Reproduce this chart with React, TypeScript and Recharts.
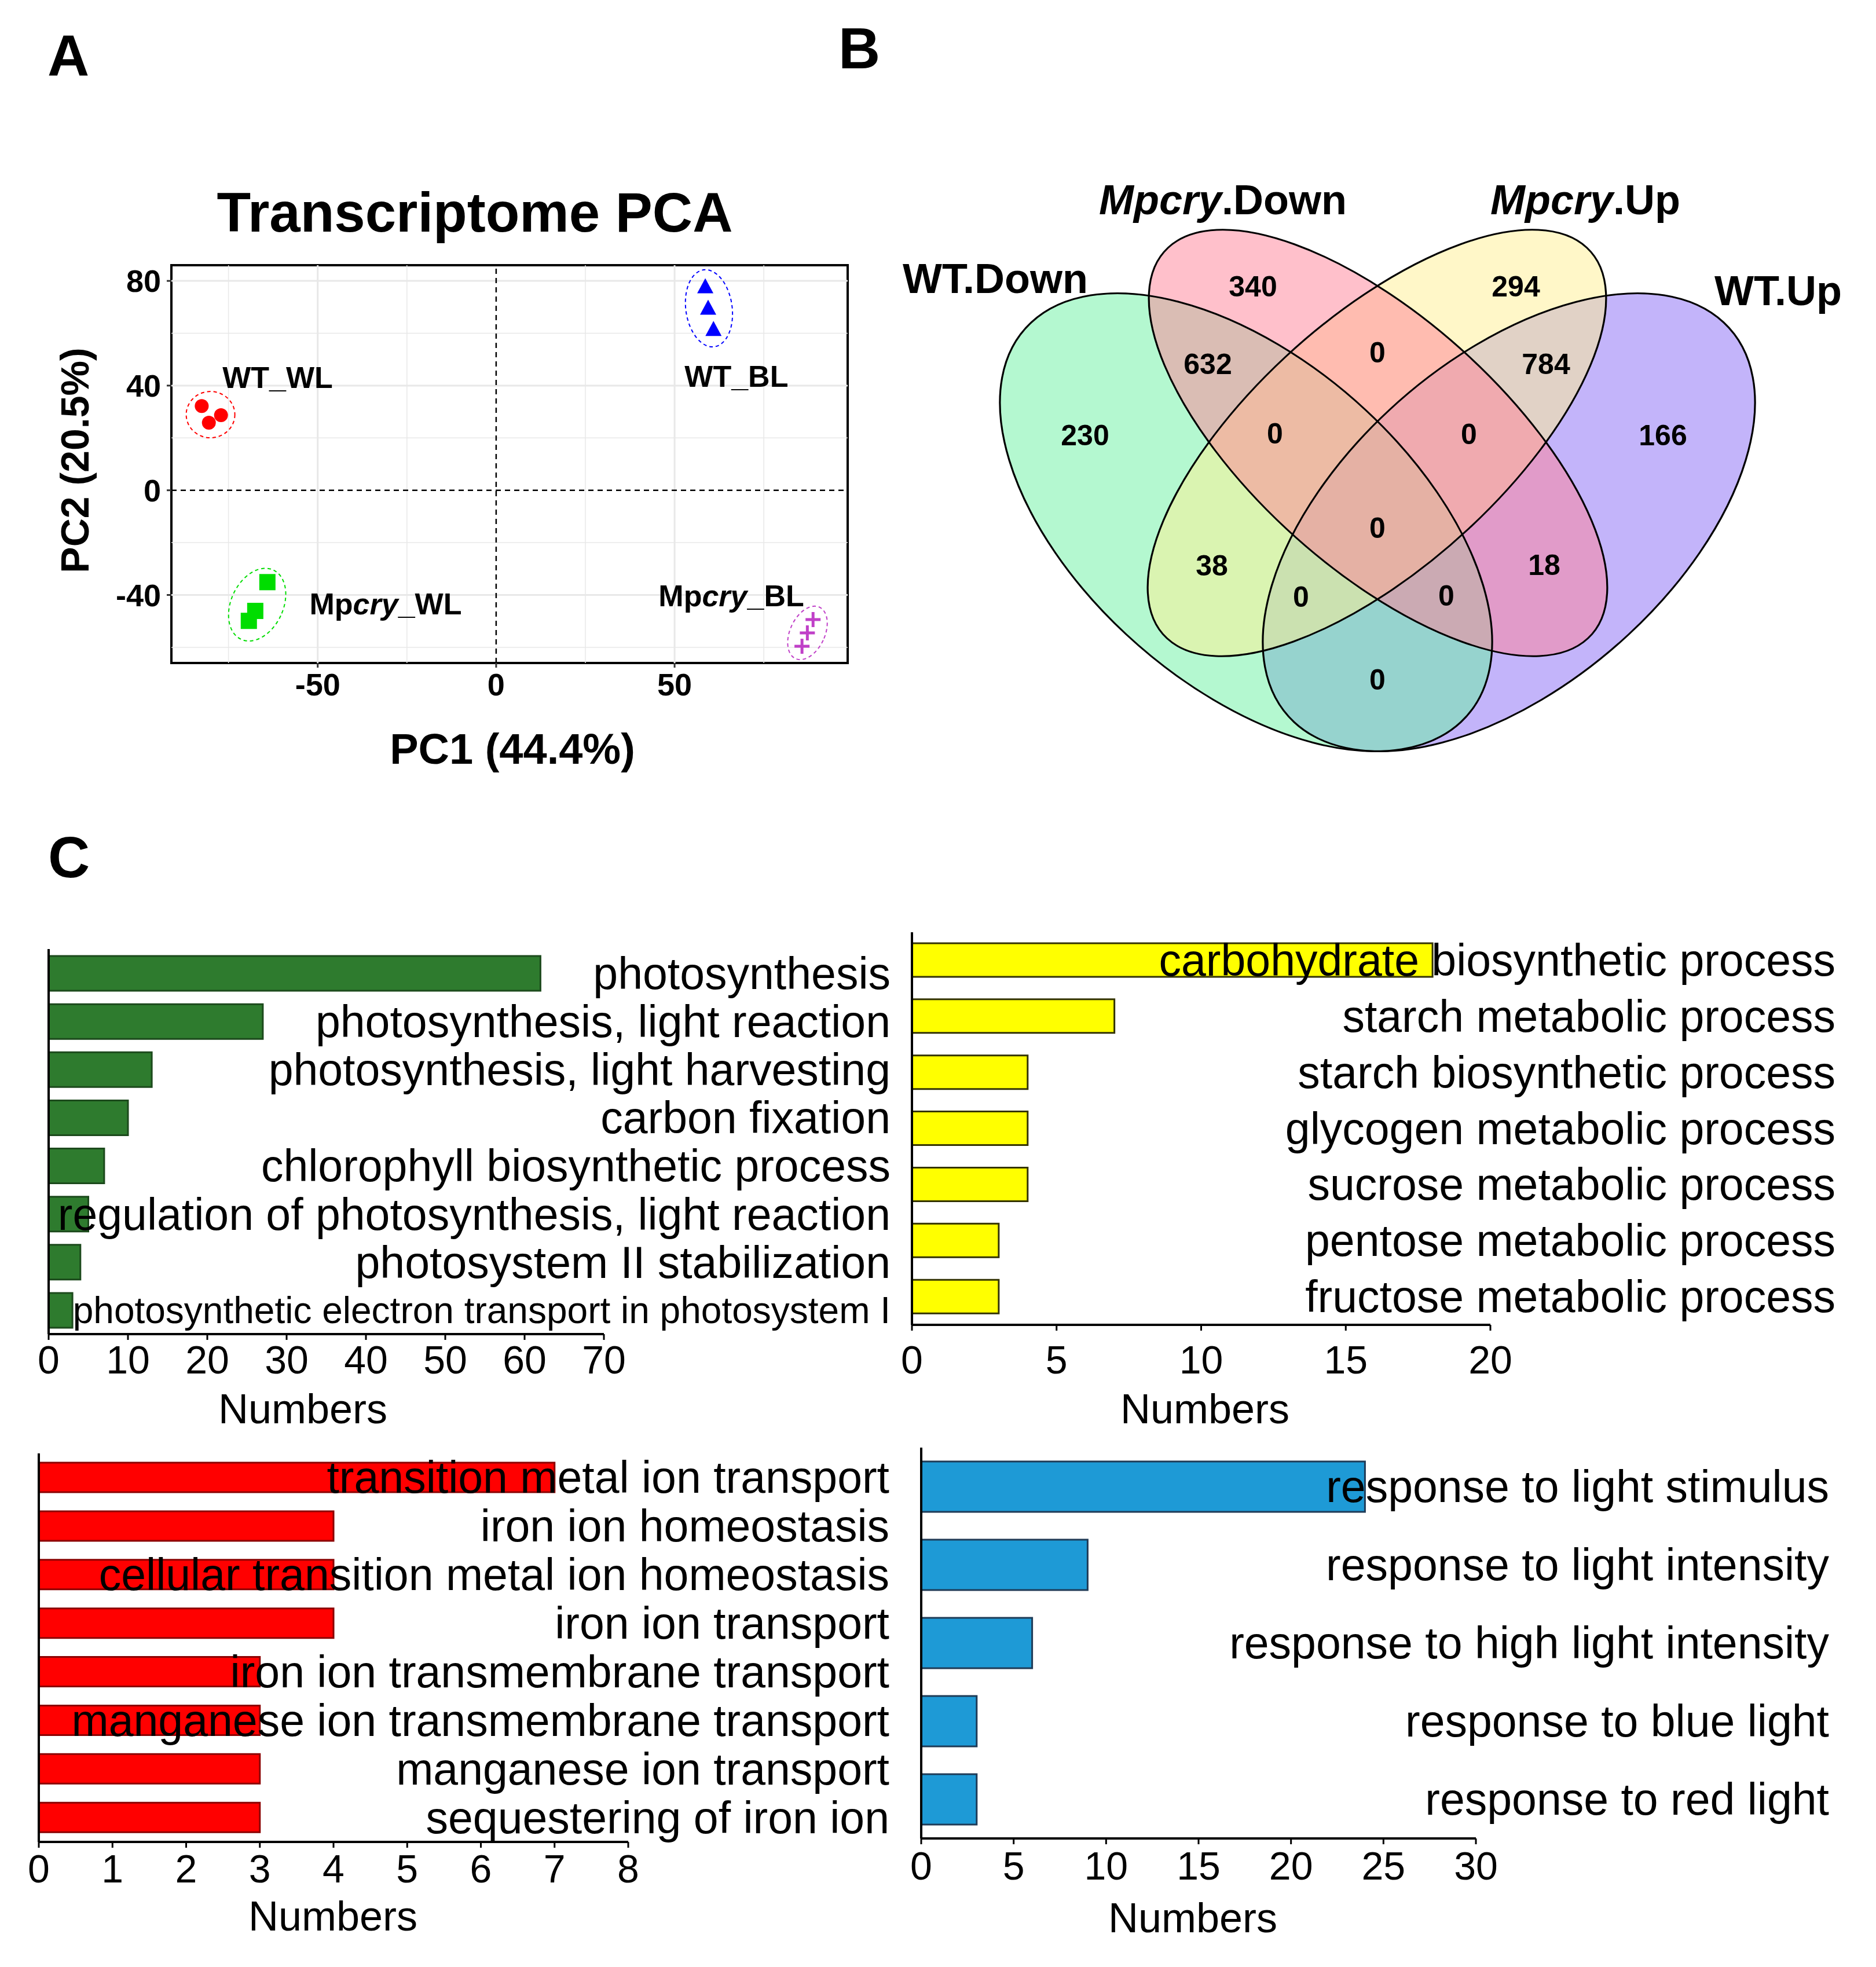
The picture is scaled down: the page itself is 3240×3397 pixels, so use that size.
import React from "react";
import {
  ScatterChart,
  Scatter,
  BarChart,
  Bar,
  XAxis,
  YAxis,
  ReferenceLine,
  ReferenceArea,
  LabelList,
} from "recharts";

const FONT = '"Liberation Sans", Arial, Helvetica, sans-serif';

// ---------- A: transcriptome PCA ----------
const PCA_GROUPS = ["WT_WL", "WT_BL", "Mpcry_WL", "Mpcry_BL"];
const PC1_WT_WL = [-82.5, -77.1, -80.5];
const PC2_WT_WL = [32.2, 28.7, 25.8];
const PC1_WT_BL = [58.6, 59.4, 60.9];
const PC2_WT_BL = [77.7, 69.5, 61.4];
const PC1_MPCRY_WL = [-64.1, -67.5, -69.3];
const PC2_MPCRY_WL = [-35.1, -46.1, -49.9];
const PC1_MPCRY_BL = [88.8, 87.2, 85.7];
const PC2_MPCRY_BL = [-49.4, -54.5, -59.6];
const PC1_TICKS = [-50, 0, 50];
const PC2_TICKS = [-40, 0, 40, 80];

// ---------- B: Venn ----------
const VENN_SETS = ["WT.Down", "Mpcry.Down", "Mpcry.Up", "WT.Up"];
const VENN_COUNTS = [230, 340, 294, 166, 632, 0, 0, 784, 0, 0, 38, 0, 0, 18, 0];

// ---------- C: GO terms ----------
const PHOTO_TERMS = [
  "photosynthesis",
  "photosynthesis, light reaction",
  "photosynthesis, light harvesting",
  "carbon fixation",
  "chlorophyll biosynthetic process",
  "regulation of photosynthesis, light reaction",
  "photosystem II stabilization",
  "photosynthetic electron transport in photosystem I",
];
const PHOTO_COUNTS = [62, 27, 13, 10, 7, 5, 4, 3];
const PHOTO_TICKS = [0, 10, 20, 30, 40, 50, 60, 70];

const CARB_TERMS = [
  "carbohydrate biosynthetic process",
  "starch metabolic process",
  "starch biosynthetic process",
  "glycogen metabolic process",
  "sucrose metabolic process",
  "pentose metabolic process",
  "fructose metabolic process",
];
const CARB_COUNTS = [18, 7, 4, 4, 4, 3, 3];
const CARB_TICKS = [0, 5, 10, 15, 20];

const ION_TERMS = [
  "transition metal ion transport",
  "iron ion homeostasis",
  "cellular transition metal ion homeostasis",
  "iron ion transport",
  "iron ion transmembrane transport",
  "manganese ion transmembrane transport",
  "manganese ion transport",
  "sequestering of iron ion",
];
const ION_COUNTS = [7, 4, 4, 4, 3, 3, 3, 3];
const ION_TICKS = [0, 1, 2, 3, 4, 5, 6, 7, 8];

const LIGHT_TERMS = [
  "response to light stimulus",
  "response to light intensity",
  "response to high light intensity",
  "response to blue light",
  "response to red light",
];
const LIGHT_COUNTS = [24, 9, 6, 3, 3];
const LIGHT_TICKS = [0, 5, 10, 15, 20, 25, 30];

// ---------- layout / styling ----------
const PCA_X_DOMAIN = [-91, 98.5];
const PCA_Y_DOMAIN = [-66, 86];
const PCA_X_GRID = [-75, -50, -25, 25, 50, 75];
const PCA_Y_GRID = [-60, -40, -20, 20, 40, 60, 80];

// label anchor (data units), ellipse [rx px, ry px, rotation deg]
const PCA_STYLE: Record<string, any> = {
  WT_WL: { color: "#ff0000", label: [-76.7, 43.3], ell: [42, 40, 0] },
  WT_BL: { color: "#0000ff", label: [52.8, 43.7], ell: [40, 67, -8] },
  Mpcry_WL: { color: "#00dd00", label: [-52.3, -43.3], ell: [45, 66, 25] },
  Mpcry_BL: { color: "#c040c8", label: [45.5, -40.2], ell: [30, 49, 25] },
};

const VENN_STRETCH = 1.075;
const VENN_SHAPES: Record<string, any> = {
  "WT.Down": { x: 2152, y: 902, a: 488, b: 273, rot: 45, fill: "#69f1a1" },
  "Mpcry.Down": { x: 2380, y: 765, a: 477, b: 209, rot: 45, fill: "#ff8197" },
  "Mpcry.Up": { x: 2378, y: 765, a: 477, b: 209, rot: -45, fill: "#ffef91" },
  "WT.Up": { x: 2606, y: 902, a: 488, b: 273, rot: -45, fill: "#8769f5" },
};
const VENN_DRAW_ORDER = [3, 0, 2, 1];
const VENN_COUNT_AT = [
  [1874, 751], [2164, 494], [2618, 494], [2872, 751], [2086, 628],
  [2379, 608], [2202, 748], [2670, 628], [2537, 749], [2379, 911],
  [2093, 976], [2247, 1030], [2498, 1028], [2667, 975], [2379, 1173],
];

const mean = (a: number[]) => a.reduce((s, v) => s + v, 0) / a.length;
const zip = (xs: number[], ys: number[]) => xs.map((x, i) => ({ x, y: ys[i] }));

const PCA_POINTS: Record<string, { x: number; y: number }[]> = {
  WT_WL: zip(PC1_WT_WL, PC2_WT_WL),
  WT_BL: zip(PC1_WT_BL, PC2_WT_BL),
  Mpcry_WL: zip(PC1_MPCRY_WL, PC2_MPCRY_WL),
  Mpcry_BL: zip(PC1_MPCRY_BL, PC2_MPCRY_BL),
};

function Txt({ x, y, size, bold, italicPrefix, rotate, children }: any) {
  return (
    <div
      style={{
        position: "absolute",
        left: x,
        top: y,
        transform: `translate(-50%, -50%)${rotate ? ` rotate(${rotate}deg)` : ""}`,
        fontSize: size,
        lineHeight: `${size}px`,
        fontWeight: bold ? 700 : 400,
        whiteSpace: "nowrap",
        color: "#000",
      }}
    >
      {italicPrefix ? <i>{italicPrefix}</i> : null}
      {children}
    </div>
  );
}

const groupLabel = (name: string) =>
  name.startsWith("Mpcry") ? (
    <>
      <tspan>Mp</tspan>
      <tspan fontStyle="italic">cry</tspan>
      <tspan>{name.slice(5)}</tspan>
    </>
  ) : (
    name
  );

const marker = (group: string) => (p: any) => {
  const { cx, cy } = p;
  const c = PCA_STYLE[group].color;
  if (group === "WT_WL") return <circle cx={cx} cy={cy} r={12} fill={c} />;
  if (group === "WT_BL")
    return <polygon points={`${cx},${cy - 15} ${cx - 14},${cy + 11} ${cx + 14},${cy + 11}`} fill={c} />;
  if (group === "Mpcry_WL") return <rect x={cx - 14} y={cy - 14} width={28} height={28} fill={c} />;
  return (
    <g stroke={c} strokeWidth={5}>
      <line x1={cx - 13} y1={cy} x2={cx + 13} y2={cy} />
      <line x1={cx} y1={cy - 13} x2={cx} y2={cy + 13} />
    </g>
  );
};

function PcaPanel() {
  const ellipses = PCA_GROUPS.map((g) => ({
    group: g,
    x: mean(PCA_POINTS[g].map((d) => d.x)),
    y: mean(PCA_POINTS[g].map((d) => d.y)),
  }));
  const labels = PCA_GROUPS.map((g) => ({ group: g, x: PCA_STYLE[g].label[0], y: PCA_STYLE[g].label[1] }));
  const tickStyle = { fontSize: 54, fontWeight: 700, fill: "#000", fontFamily: FONT };
  return (
    <div style={{ position: "absolute", left: 0, top: 250 }}>
      <ScatterChart width={1520} height={1100} margin={{ top: 208, right: 56, bottom: 135, left: 176 }}>
        <XAxis
          type="number"
          dataKey="x"
          domain={PCA_X_DOMAIN}
          ticks={PC1_TICKS}
          allowDataOverflow
          interval={0}
          height={70}
          axisLine={false}
          tickLine={{ stroke: "#333", strokeWidth: 3 }}
          tickSize={8}
          tickMargin={10}
          tick={tickStyle}
        />
        <YAxis
          type="number"
          dataKey="y"
          domain={PCA_Y_DOMAIN}
          ticks={PC2_TICKS}
          allowDataOverflow
          interval={0}
          width={120}
          axisLine={false}
          tickLine={{ stroke: "#333", strokeWidth: 3 }}
          tickSize={8}
          tickMargin={10}
          tick={tickStyle}
        />
        {PCA_X_GRID.map((v) => (
          <ReferenceLine key={`gx${v}`} x={v} stroke="#e8e8e8" strokeWidth={v % 50 === 0 ? 3 : 1.5} />
        ))}
        {PCA_Y_GRID.map((v) => (
          <ReferenceLine key={`gy${v}`} y={v} stroke="#e8e8e8" strokeWidth={v % 40 === 0 ? 3 : 1.5} />
        ))}
        <ReferenceLine x={0} stroke="#000" strokeWidth={2.5} strokeDasharray="9 7" />
        <ReferenceLine y={0} stroke="#000" strokeWidth={2.5} strokeDasharray="9 7" />
        <ReferenceArea
          x1={PCA_X_DOMAIN[0]}
          x2={PCA_X_DOMAIN[1]}
          y1={PCA_Y_DOMAIN[0]}
          y2={PCA_Y_DOMAIN[1]}
          fill="none"
          stroke="#000"
          strokeWidth={4}
          ifOverflow="visible"
        />
        <Scatter
          data={ellipses}
          isAnimationActive={false}
          shape={(p: any) => {
            const st = PCA_STYLE[p.payload.group];
            const [rx, ry, rot] = st.ell;
            return (
              <ellipse
                cx={0}
                cy={0}
                rx={rx}
                ry={ry}
                transform={`translate(${p.cx},${p.cy}) rotate(${rot})`}
                fill="none"
                stroke={st.color}
                strokeWidth={2}
                strokeDasharray="6 5"
              />
            );
          }}
        />
        {PCA_GROUPS.map((g) => (
          <Scatter key={g} data={PCA_POINTS[g]} isAnimationActive={false} shape={marker(g)} />
        ))}
        <Scatter
          data={labels}
          isAnimationActive={false}
          shape={(p: any) => (
            <text
              x={p.cx}
              y={p.cy}
              dy="0.36em"
              fontSize={52}
              fontWeight={700}
              fontFamily={FONT}
              fill="#000"
            >
              {groupLabel(p.payload.group)}
            </text>
          )}
        />
      </ScatterChart>
    </div>
  );
}

function VennPanel() {
  const shapes = VENN_DRAW_ORDER.map((i) => ({
    set: VENN_SETS[i],
    x: VENN_SHAPES[VENN_SETS[i]].x,
    y: VENN_SHAPES[VENN_SETS[i]].y,
  }));
  const counts = VENN_COUNTS.map((c, i) => ({ count: c, x: VENN_COUNT_AT[i][0], y: VENN_COUNT_AT[i][1] }));
  const ell = (outline: boolean) => (p: any) => {
    const s = VENN_SHAPES[p.payload.set];
    return (
      <ellipse
        cx={0}
        cy={0}
        rx={s.a}
        ry={s.b}
        transform={`translate(${p.cx},${p.cy}) scale(${VENN_STRETCH},1) rotate(${s.rot})`}
        fill={outline ? "none" : s.fill}
        fillOpacity={outline ? 0 : 0.5}
        stroke={outline ? "#000" : "none"}
        strokeWidth={outline ? 3 : 0}
      />
    );
  };
  return (
    <div style={{ position: "absolute", left: 1500, top: 250 }}>
      <ScatterChart width={1740} height={1150} margin={{ top: 0, right: 0, bottom: 0, left: 0 }}>
        <XAxis type="number" dataKey="x" domain={[1500, 3240]} hide allowDataOverflow />
        <YAxis type="number" dataKey="y" domain={[250, 1400]} hide reversed allowDataOverflow />
        <Scatter data={shapes} isAnimationActive={false} shape={ell(false)} />
        <Scatter data={shapes} isAnimationActive={false} shape={ell(true)} />
        <Scatter
          data={counts}
          isAnimationActive={false}
          shape={(p: any) => (
            <text
              x={p.cx}
              y={p.cy}
              dy="0.36em"
              textAnchor="middle"
              fontSize={50}
              fontWeight={700}
              fontFamily={FONT}
              fill="#000"
            >
              {p.payload.count}
            </text>
          )}
        />
      </ScatterChart>
    </div>
  );
}

type GoProps = {
  terms: string[];
  counts: number[];
  ticks: number[];
  fill: string;
  stroke: string;
  box: [number, number, number, number];
  plot: [number, number, number, number];
  labelRight: number;
  barSize: number;
  tickMargin: number;
};

function GoPanel({ terms, counts, ticks, fill, stroke, box, plot, labelRight, barSize, tickMargin }: GoProps) {
  const [left, top, width, height] = box;
  const [x0, x1, y0, y1] = plot;
  const Y_W = 10;
  const X_H = 80;
  const data = terms.map((name, i) => ({ name, value: counts[i] }));
  const labelX = labelRight - left;
  return (
    <div style={{ position: "absolute", left, top }}>
      <BarChart
        layout="vertical"
        width={width}
        height={height}
        data={data}
        margin={{
          top: y0 - top,
          left: x0 - left - Y_W,
          right: left + width - x1,
          bottom: top + height - y1 - X_H,
        }}
      >
        <XAxis
          type="number"
          domain={[ticks[0], ticks[ticks.length - 1]]}
          ticks={ticks}
          interval={0}
          allowDataOverflow
          height={X_H}
          axisLine={{ stroke: "#000", strokeWidth: 4 }}
          tickLine={{ stroke: "#000", strokeWidth: 3 }}
          tickSize={10}
          tickMargin={tickMargin}
          tick={{ fontSize: 68, fill: "#000", fontFamily: FONT }}
        />
        <YAxis
          type="category"
          dataKey="name"
          width={Y_W}
          tick={false}
          tickLine={false}
          axisLine={{ stroke: "#000", strokeWidth: 4 }}
        />
        <Bar dataKey="value" fill={fill} stroke={stroke} strokeWidth={3} barSize={barSize} isAnimationActive={false}>
          <LabelList
            dataKey="name"
            content={(p: any) => {
              const vb = p.viewBox ?? p;
              const v = String(p.value);
              return (
                <text
                  x={labelX}
                  y={vb.y + vb.height / 2}
                  dy="0.35em"
                  textAnchor="end"
                  fontSize={v.length > 45 ? 64 : 77}
                  fontFamily={FONT}
                  fill="#000"
                >
                  {v}
                </text>
              );
            }}
          />
        </Bar>
      </BarChart>
    </div>
  );
}

export default function App() {
  return (
    <div
      style={{
        position: "relative",
        width: 3240,
        height: 3397,
        background: "#fff",
        fontFamily: FONT,
        overflow: "hidden",
      }}
    >
      <style>{"body{margin:0;background:#fff}"}</style>

      <Txt x={118} y={96} size={100} bold>A</Txt>
      <Txt x={1484} y={83} size={100} bold>B</Txt>
      <Txt x={119} y={1480} size={100} bold>C</Txt>

      <Txt x={820} y={367} size={96} bold>Transcriptome PCA</Txt>
      <Txt x={885} y={1294} size={74} bold>PC1 (44.4%)</Txt>
      <Txt x={129} y={795} size={68} bold rotate={-90}>PC2 (20.5%)</Txt>
      <PcaPanel />

      <VennPanel />
      <Txt x={1719} y={481} size={72} bold>WT.Down</Txt>
      <Txt x={2112} y={345} size={72} bold italicPrefix="Mpcry">.Down</Txt>
      <Txt x={2738} y={345} size={72} bold italicPrefix="Mpcry">.Up</Txt>
      <Txt x={3071} y={502} size={72} bold>WT.Up</Txt>

      <GoPanel
        terms={PHOTO_TERMS}
        counts={PHOTO_COUNTS}
        ticks={PHOTO_TICKS}
        fill="#2e7b2e"
        stroke="#1c4a1c"
        box={[40, 1600, 1530, 800]}
        plot={[84, 1043, 1639, 2304]}
        labelRight={1538}
        barSize={60}
        tickMargin={10}
      />
      <GoPanel
        terms={CARB_TERMS}
        counts={CARB_COUNTS}
        ticks={CARB_TICKS}
        fill="#ffff00"
        stroke="#333300"
        box={[1540, 1580, 1660, 820]}
        plot={[1575, 2574, 1610, 2288]}
        labelRight={3170}
        barSize={58}
        tickMargin={26}
      />
      <GoPanel
        terms={ION_TERMS}
        counts={ION_COUNTS}
        ticks={ION_TICKS}
        fill="#ff0000"
        stroke="#8b0000"
        box={[20, 2470, 1550, 850]}
        plot={[67, 1085, 2510, 3181]}
        labelRight={1536}
        barSize={51}
        tickMargin={12}
      />
      <GoPanel
        terms={LIGHT_TERMS}
        counts={LIGHT_COUNTS}
        ticks={LIGHT_TICKS}
        fill="#1e9ad6"
        stroke="#1f3b57"
        box={[1540, 2470, 1660, 850]}
        plot={[1591, 2549, 2500, 3175]}
        labelRight={3159}
        barSize={87}
        tickMargin={13}
      />

      <Txt x={523} y={2433} size={72}>Numbers</Txt>
      <Txt x={2081} y={2433} size={72}>Numbers</Txt>
      <Txt x={575} y={3309} size={72}>Numbers</Txt>
      <Txt x={2060} y={3312} size={72}>Numbers</Txt>
    </div>
  );
}
